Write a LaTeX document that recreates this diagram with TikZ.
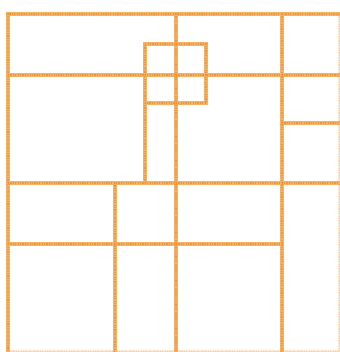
\documentclass[tikz,border=0pt]{standalone}
\definecolor{lineorange}{RGB}{244,178,100}
\definecolor{dotorange}{RGB}{232,140,50}
\begin{document}
\begin{tikzpicture}[x=1pt,y=-1pt,
  gridline/.style={draw=lineorange, line width=3.8pt, line cap=rect},
  gridtex/.style={draw=dotorange, line width=1.6pt, dash pattern=on 1.2pt off 1.2pt, opacity=0.7}]
\useasboundingbox (0,0) rectangle (339,352);
\foreach \s in {gridline,gridtex}{
  \draw[\s] (8,351) -- (8,14) -- (339,14);
  \draw[\s, opacity=0.3] (339.5,14) -- (339.5,351.5) -- (8,351.5);
  \draw[\s] (8,75) -- (339,75);
  \draw[\s] (8,183) -- (339,183);
  \draw[\s] (8,244) -- (282,244);
  \draw[\s] (282,123) -- (339,123);
  \draw[\s] (176,14) -- (176,351);
  \draw[\s] (282,14) -- (282,351);
  \draw[\s] (115,183) -- (115,351);
  \draw[\s] (145,183) -- (145,44) -- (206,44) -- (206,103) -- (145,103);
}
\end{tikzpicture}
\end{document}
